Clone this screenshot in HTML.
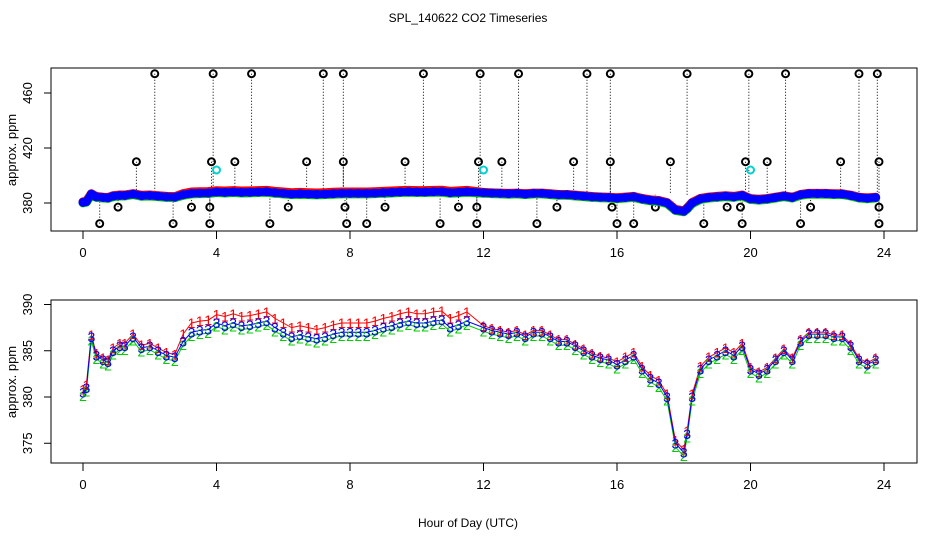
<!DOCTYPE html>
<html><head><meta charset="utf-8"><style>
body{margin:0;background:#fff}
svg{display:block;font-family:"Liberation Sans","DejaVu Sans",sans-serif}
</style></head><body>
<svg id="c" width="936" height="540" viewBox="0 0 936 540">
<text x="468" y="22" font-size="12" text-anchor="middle">SPL_140622  CO2 Timeseries</text>
<rect x="51" y="68" width="866" height="163" fill="none" stroke="#000"/>
<rect x="51" y="300" width="866" height="163" fill="none" stroke="#000"/>
<text transform="translate(16,150) rotate(-90)" font-size="13" text-anchor="middle">approx. ppm</text>
<text transform="translate(16,382) rotate(-90)" font-size="13" text-anchor="middle">approx. ppm</text>
<text x="468" y="527" font-size="12" text-anchor="middle">Hour of Day (UTC)</text>
<g id="topg"></g><g id="botg"></g>
</svg>
<script>
const hours=[0,0.1,0.25,0.4,0.6,0.75,0.9,1.1,1.25,1.5,1.75,2,2.25,2.5,2.75,3,3.25,3.5,3.75,4,4.25,4.5,4.75,5,5.25,5.5,5.75,6,6.25,6.5,6.75,7,7.25,7.5,7.75,8,8.25,8.5,8.75,9,9.25,9.5,9.75,10,10.25,10.5,10.75,11,11.25,11.5,12,12.25,12.5,12.75,13,13.25,13.5,13.75,14,14.25,14.5,14.75,15,15.25,15.5,15.75,16,16.25,16.5,16.75,17,17.25,17.5,17.75,18,18.1,18.25,18.5,18.75,19,19.25,19.5,19.75,20,20.25,20.5,20.75,21,21.25,21.5,21.75,22,22.25,22.5,22.75,23,23.25,23.5,23.75];
const co2=[380.5,381,386.5,384.5,384,383.8,385,385.5,385.5,386.5,385.3,385.5,385,384.5,384.3,386,387,387.2,387.3,388,387.7,388,387.7,387.8,388,388.2,387.5,387,386.5,386.7,386.5,386.3,386.5,386.8,387,387,387,387,387.2,387.5,387.7,388,388.2,388,388,388.2,388.3,387.5,387.8,388.2,387.5,387.2,387,386.8,387,386.5,387,387,386.5,386,386,385.5,385,384.5,384.2,384,383.5,384,384.5,383,382,381.5,380,375,374,376,380,383,384,384.5,385,384.5,385.5,383,382.5,383,384,385,384,386,386.8,386.8,386.8,386.5,386.5,385.5,384,383.5,384];
const redOffset=[0.3,0.3,0.2,0.2,0.2,0.2,0.3,0.3,0.3,0.3,0.3,0.3,0.3,0.3,0.3,0.8,1.0,1.0,1.0,0.9,1.0,1.0,1.0,1.0,1.0,1.0,1.0,1.0,1.0,1.0,1.0,1.0,1.0,1.0,1.0,1.0,1.0,1.0,1.0,1.0,1.0,1.0,1.0,1.0,1.0,1.0,1.0,1.0,1.0,1.0,0.2,0.2,0.2,0.2,0.2,0.2,0.2,0.2,0.2,0.2,0.2,0.2,0.2,0.2,0.2,0.2,0.3,0.3,0.3,0.3,0.3,0.3,0.3,0.3,0.3,0.3,0.3,0.3,0.3,0.3,0.3,0.3,0.3,0.2,0.2,0.2,0.2,0.2,0.2,0.2,0.2,0.2,0.2,0.2,0.2,0.2,0.2,0.2,0.2];
const greenOffset=-0.4;
const hiHours=[2.15,3.9,5.05,7.2,7.8,10.2,11.9,13.05,15.1,15.8,18.1,19.95,21.05,23.25,23.8];
const midHours=[1.6,3.85,4.55,6.7,7.8,9.65,11.85,12.55,14.7,15.8,17.6,19.85,20.5,22.7,23.85];
const lowHours=[1.05,3.25,3.8,6.15,7.85,9.05,11.25,11.8,14.2,15.85,17.15,19.3,19.7,21.8,23.85];
const lowestHours=[0.5,2.7,3.8,5.6,7.9,8.5,10.7,11.8,13.6,16,16.5,18.6,19.75,21.5,23.85];
const hiVals=[474,410,377,365];
const cyanHours=[4,12,20];const cyanVal=404;
const xTicks=[0,4,8,12,16,20,24];
const topYTicks=[380,420,460];const botYTicks=[375,380,385,390];
const X=h=>83+h*33.375;
const YT=v=>203-(v-380)*1.375;
const YB=v=>397-(v-380)*9.25;
const NS='http://www.w3.org/2000/svg';
function mk(p,t,a){const e=document.createElementNS(NS,t);for(const k in a)e.setAttribute(k,a[k]);p.appendChild(e);return e;}
const topG=document.getElementById('topg'),botG=document.getElementById('botg');
const roff=i=>(redOffset[i]!==undefined?redOffset[i]:0.2);
const n=Math.min(hours.length,co2.length);
[[topG,231,YT,topYTicks],[botG,463,YB,botYTicks]].forEach(([g,by,Y,yt])=>{
 xTicks.forEach(t=>{mk(g,'line',{x1:X(t),x2:X(t),y1:by,y2:by+8,stroke:'#000'});
  const tx=mk(g,'text',{x:X(t),y:by+26,'font-size':13,'text-anchor':'middle'});tx.textContent=t;
  
  });
 yt.forEach(v=>{mk(g,'line',{x1:44,x2:51,y1:Y(v),y2:Y(v),stroke:'#000'});
  const tx=mk(g,'text',{'font-size':13,'text-anchor':'middle',transform:`translate(32,${Y(v)}) rotate(-90)`});tx.textContent=v;
  
  });
});
const outl=[[hiHours,hiVals[0]],[midHours,hiVals[1]],[lowHours,hiVals[2]],[lowestHours,hiVals[3]]];
outl.forEach(([hs,v])=>hs.forEach(h=>{
 mk(topG,'line',{x1:X(h),x2:X(h),y1:YT(v),y2:YT(386),stroke:'#000','stroke-dasharray':'1,2'});
 const c=mk(topG,'circle',{cx:X(h),cy:YT(v),r:3.5,fill:'none',stroke:'#000','stroke-width':2});
 
 
}));
cyanHours.forEach(h=>{const c=mk(topG,'circle',{cx:X(h),cy:YT(cyanVal),r:3.5,fill:'none',stroke:'#00d0d0','stroke-width':2});
 
 });
const tband=(f,col,w)=>mk(topG,'polyline',{fill:'none',stroke:col,'stroke-width':w,'stroke-linejoin':'round','stroke-linecap':'round',points:hours.slice(0,n).map((h,i)=>X(h)+','+YT(co2[i]+f(i))).join(' ')});
const tr=tband(roff,'red',9);


const tgn=tband(()=>greenOffset,'#0c0',9);


const tb=tband(()=>0,'#00f',8);


for(let i=0;i<n;i++){
 const c=mk(topG,'circle',{cx:X(hours[i]),cy:YT(co2[i]),r:3.5,fill:'none',stroke:'#00f','stroke-width':2});
 
 
}
const line=(f,col)=>mk(botG,'polyline',{fill:'none',stroke:col,'stroke-width':1,points:hours.slice(0,n).map((h,i)=>X(h)+','+YB(co2[i]+f(i))).join(' ')});
const rl=line(roff,'red');


const gl=line(()=>greenOffset,'#0c0');


const bl=line(()=>0,'#00f');


for(let i=0;i<n;i++){
 const h=hours[i];
 const a=mk(botG,'text',{x:X(h),y:YB(co2[i]+roff(i))+5,'font-size':14,fill:'red','text-anchor':'middle'});a.textContent='1';
 
 
 const b=mk(botG,'text',{x:X(h),y:YB(co2[i]+greenOffset)+5,'font-size':14,fill:'#0c0','text-anchor':'middle'});b.textContent='2';
 
 
 const c=mk(botG,'text',{x:X(h),y:YB(co2[i])+5,'font-size':14,fill:'#00f','text-anchor':'middle'});c.textContent='3';
 
 
}
</script>
</body></html>
